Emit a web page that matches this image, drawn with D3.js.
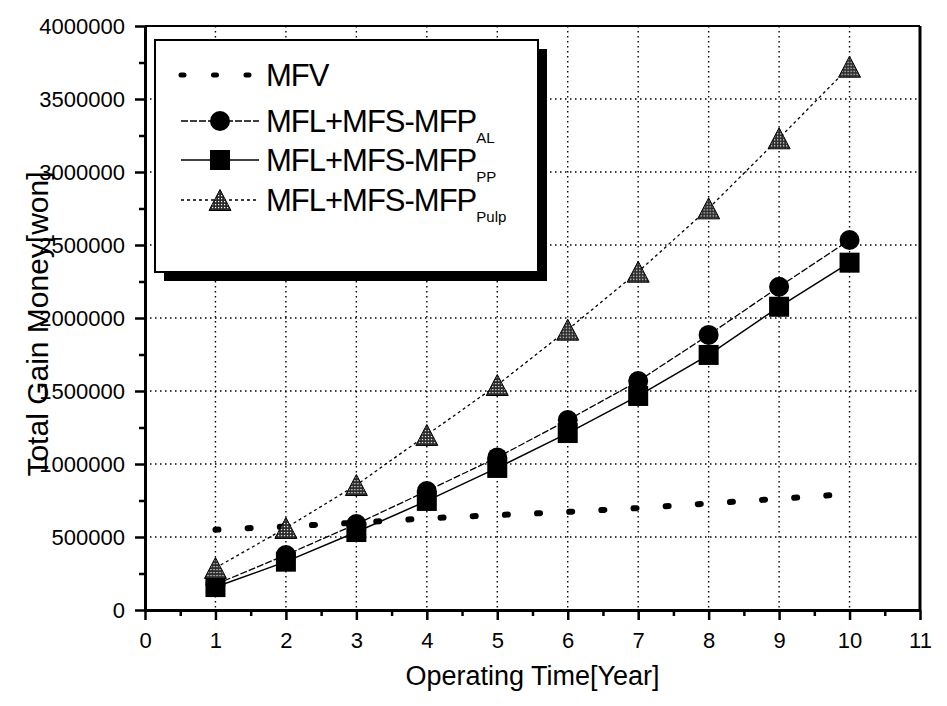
<!DOCTYPE html>
<html>
<head>
<meta charset="utf-8">
<script src="https://cdn.jsdelivr.net/npm/d3@7"></script>
<style>
  html, body { margin: 0; padding: 0; background: #fff; }
  svg { display: block; font-family: "Liberation Sans", Arial, sans-serif; }
</style>
</head>
<body>
<svg id="chart" width="947" height="706"></svg>
<script>
// Operating time in years
const years = [1, 2, 3, 4, 5, 6, 7, 8, 9, 10];

// Total gain money [won] per scenario
const mfv      = [550000, 572000, 598000, 628000, 650000, 672000, 698000, 730000, 762000, 795000];
const mfpAL    = [175000, 377000, 589000, 815000, 1045000, 1301000, 1568000, 1884000, 2214000, 2534000];
const mfpPP    = [157000, 331000, 534000, 747000, 973000, 1212000, 1466000, 1747000, 2077000, 2379000];
const mfpPulp  = [288000, 562000, 856000, 1199000, 1541000, 1920000, 2317000, 2751000, 3231000, 3721000];

// Axis ticks
const xTicks = [0, 1, 2, 3, 4, 5, 6, 7, 8, 9, 10, 11];
const xMinor = [0.5, 1.5, 2.5, 3.5, 4.5, 5.5, 6.5, 7.5, 8.5, 9.5, 10.5];
const yTicks = [0, 500000, 1000000, 1500000, 2000000, 2500000, 3000000, 3500000, 4000000];
const yMinor = [250000, 750000, 1250000, 1750000, 2250000, 2750000, 3250000, 3750000];

const svg = d3.select("#chart");
const L = 145, R = 920, T = 26, B = 610;

const x = d3.scaleLinear().domain([0, 11]).range([L, R]);
const y = d3.scaleLinear().domain([0, 4000000]).range([B, T]);

// halftone fill for the triangle markers
const defs = svg.append("defs");
const pat = defs.append("pattern").attr("id", "halftone")
  .attr("width", 3).attr("height", 3).attr("patternUnits", "userSpaceOnUse");
pat.append("rect").attr("width", 3).attr("height", 3).attr("fill", "#2a2a2a");
pat.append("rect").attr("x", 1).attr("y", 1).attr("width", 1.2).attr("height", 1.2).attr("fill", "#fff");

// dotted grid
const grid = svg.append("g").attr("stroke", "#000").attr("stroke-width", 1.4)
  .attr("stroke-dasharray", "1.5,3.5");
grid.selectAll("line.v").data(years).join("line")
  .attr("x1", d => x(d)).attr("x2", d => x(d)).attr("y1", T).attr("y2", B);
grid.selectAll("line.h").data(yTicks.filter(v => v > 0 && v < 4000000)).join("line")
  .attr("x1", L).attr("x2", R).attr("y1", d => y(d)).attr("y2", d => y(d));

// frame (top and right)
svg.append("line").attr("x1", L).attr("x2", R).attr("y1", T).attr("y2", T)
  .attr("stroke", "#000").attr("stroke-width", 2);
svg.append("line").attr("x1", R).attr("x2", R).attr("y1", T).attr("y2", B)
  .attr("stroke", "#000").attr("stroke-width", 3);

// axes
const fmt = d3.format("d");
const xAxis = svg.append("g").attr("transform", `translate(0,${B})`)
  .call(d3.axisBottom(x).tickValues(xTicks).tickFormat(fmt).tickSize(10).tickSizeOuter(0).tickPadding(12));
const xAxisMinor = svg.append("g").attr("transform", `translate(0,${B})`)
  .call(d3.axisBottom(x).tickValues(xMinor).tickFormat("").tickSize(6).tickSizeOuter(0));
const yAxis = svg.append("g").attr("transform", `translate(${L},0)`)
  .call(d3.axisLeft(y).tickValues(yTicks).tickFormat(fmt).tickSize(10).tickSizeOuter(0).tickPadding(10));
const yAxisMinor = svg.append("g").attr("transform", `translate(${L},0)`)
  .call(d3.axisLeft(y).tickValues(yMinor).tickFormat("").tickSize(6).tickSizeOuter(0));

[xAxis, xAxisMinor, yAxis, yAxisMinor].forEach(g => {
  g.select(".domain").attr("stroke", "#000").attr("stroke-width", 3);
  g.selectAll(".tick line").attr("stroke", "#000").attr("stroke-width", 2.5);
  g.selectAll(".tick text").attr("fill", "#000").attr("font-size", 22)
    .attr("font-family", "'Liberation Sans', Arial, sans-serif");
});
xAxisMinor.select(".domain").remove();
yAxisMinor.select(".domain").remove();

// axis titles
svg.append("text").attr("x", (L + R) / 2).attr("y", 685).attr("text-anchor", "middle")
  .attr("font-size", 27).attr("fill", "#000").text("Operating Time[Year]");
svg.append("text").attr("transform", "translate(48,324) rotate(-90)").attr("text-anchor", "middle")
  .attr("font-size", 30).attr("fill", "#000").text("Total Gain Money[won]");

// series lines
const lineGen = vals => d3.line().x((d, i) => x(years[i])).y(d => y(d))(vals);

svg.append("path").attr("d", lineGen(mfv)).attr("fill", "none").attr("stroke", "#000")
  .attr("stroke-width", 6).attr("stroke-linecap", "round").attr("stroke-dasharray", "3,29.2");
svg.append("path").attr("d", lineGen(mfpPulp)).attr("fill", "none").attr("stroke", "#000")
  .attr("stroke-width", 1.3).attr("stroke-dasharray", "3,3");
svg.append("path").attr("d", lineGen(mfpAL)).attr("fill", "none").attr("stroke", "#000")
  .attr("stroke-width", 1.3).attr("stroke-dasharray", "7,2");
svg.append("path").attr("d", lineGen(mfpPP)).attr("fill", "none").attr("stroke", "#000")
  .attr("stroke-width", 1.5);

// markers
const triPath = "M0,-10.5L11,10.5L-11,10.5Z";
function drawSquares(g, vals) {
  g.selectAll("rect.m").data(vals).join("rect")
    .attr("x", (d, i) => x(years[i]) - 10).attr("y", d => y(d) - 10)
    .attr("width", 20).attr("height", 20).attr("fill", "#000");
}
function drawCircles(g, vals) {
  g.selectAll("circle.m").data(vals).join("circle")
    .attr("cx", (d, i) => x(years[i])).attr("cy", d => y(d)).attr("r", 10).attr("fill", "#000");
}
function drawTriangles(g, vals) {
  g.selectAll("path.m").data(vals).join("path")
    .attr("d", triPath).attr("transform", (d, i) => `translate(${x(years[i])},${y(d)})`)
    .attr("fill", "url(#halftone)").attr("stroke", "#000").attr("stroke-width", 1);
}
drawCircles(svg.append("g"), mfpAL);
drawSquares(svg.append("g"), mfpPP);
drawTriangles(svg.append("g"), mfpPulp);

// legend
const lg = svg.append("g");
lg.append("rect").attr("x", 164).attr("y", 49).attr("width", 383).attr("height", 232).attr("fill", "#000");
lg.append("rect").attr("x", 155).attr("y", 40).attr("width", 383).attr("height", 232)
  .attr("fill", "#fff").attr("stroke", "#000").attr("stroke-width", 2);

const entries = [
  { name: "MFV", sub: "", yy: 75, kind: "mfv" },
  { name: "MFL+MFS-MFP", sub: "AL", yy: 121, kind: "al" },
  { name: "MFL+MFS-MFP", sub: "PP", yy: 160, kind: "pp" },
  { name: "MFL+MFS-MFP", sub: "Pulp", yy: 200, kind: "pulp" }
];
entries.forEach(e => {
  const g = lg.append("g");
  const ln = g.append("line").attr("x1", 181).attr("x2", 259).attr("y1", e.yy).attr("y2", e.yy)
    .attr("stroke", "#000");
  if (e.kind === "mfv") {
    ln.attr("stroke-width", 5).attr("stroke-linecap", "round").attr("stroke-dasharray", "3,29.5");
  } else if (e.kind === "al") {
    ln.attr("stroke-width", 1.3).attr("stroke-dasharray", "7,2");
    g.append("circle").attr("cx", 220).attr("cy", e.yy).attr("r", 10).attr("fill", "#000");
  } else if (e.kind === "pp") {
    ln.attr("stroke-width", 1.5);
    g.append("rect").attr("x", 210).attr("y", e.yy - 10).attr("width", 20).attr("height", 20).attr("fill", "#000");
  } else {
    ln.attr("stroke-width", 1.3).attr("stroke-dasharray", "3,3");
    g.append("path").attr("d", triPath).attr("transform", `translate(220,${e.yy})`)
      .attr("fill", "url(#halftone)").attr("stroke", "#000").attr("stroke-width", 1);
  }
  const t = g.append("text").attr("x", 266).attr("y", e.yy + 11).attr("font-size", 31)
    .attr("letter-spacing", -1).attr("fill", "#000").text(e.name);
  if (e.sub) {
    t.append("tspan").attr("dy", 11).attr("font-size", 15).attr("letter-spacing", 0).text(e.sub);
  }
});
</script>
</body>
</html>
